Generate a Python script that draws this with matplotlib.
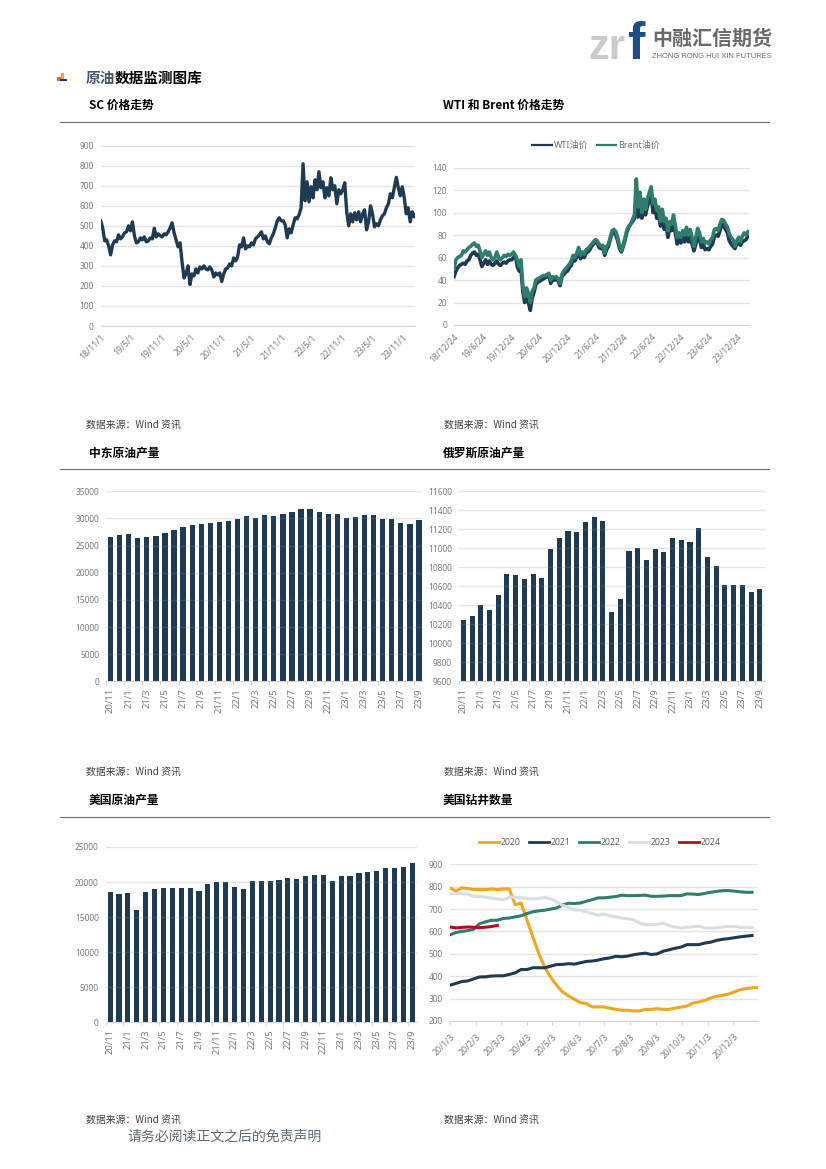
import matplotlib
matplotlib.use("Agg")
import matplotlib.pyplot as plt
import pandas as pd
from matplotlib.patches import Rectangle

W, H = 826, 1169
CJK = ["Noto Sans CJK SC", "DejaVu Sans"]
NAVY = "#1F3B53"
GREEN = "#2F7D6C"
GRID = "#E3E3E3"
TICK = "#7B7B7B"

sc_price = [
    525, 490, 425, 430, 400, 355, 405, 425, 420, 455, 435, 445, 465, 470, 500, 475,
    520, 450, 415, 420, 440, 430, 445, 420, 425, 440, 435, 488, 445, 460, 450, 445,
    460, 455, 470, 490, 515, 465, 430, 395, 415, 320, 240, 260, 300, 207, 260, 250,
    285, 265, 295, 285, 300, 285, 280, 295, 280, 245, 265, 255, 265, 222, 260, 285,
    290, 310, 300, 340, 325, 345, 405, 395, 440, 385, 400, 395, 415, 405, 435, 445,
    455, 470, 435, 450, 420, 410, 440, 460, 490, 525, 540, 525, 525, 505, 440, 485,
    465, 505, 540, 535, 555, 590, 810, 625, 720, 620, 695, 640, 730, 680, 770, 690,
    720, 640, 690, 650, 740, 680, 700, 610, 680, 660, 680, 715, 570, 500, 560, 520,
    565, 530, 570, 520, 560, 580, 480, 520, 600, 560, 495, 510, 500, 530, 550, 560,
    590, 610, 660, 640, 690, 742, 690, 650, 695, 640, 560, 590, 520, 570, 545, 560,
]
sc_ticks = ["2018-11-01", "2019-05-01", "2019-11-01", "2020-05-01", "2020-11-01", "2021-05-01",
            "2021-11-01", "2022-05-01", "2022-11-01", "2023-05-01", "2023-11-01"]
sc_labels = ["18/11/1", "19/5/1", "19/11/1", "20/5/1", "20/11/1", "21/5/1",
             "21/11/1", "22/5/1", "22/11/1", "23/5/1", "23/11/1"]

brent = [
    50, 58, 60, 61, 62, 66, 65, 67, 69, 70, 72, 73, 70, 71, 66, 60, 63, 66, 62, 65,
    60, 58, 60, 65, 60, 58, 60, 62, 61, 63, 62, 63, 65, 62, 58, 52, 58, 35, 25, 33,
    28, 20, 30, 33, 40, 41, 42, 43, 44, 44, 45, 46, 40, 43, 42, 43, 41, 37, 45, 48,
    50, 52, 54, 57, 62, 60, 64, 69, 62, 65, 63, 67, 68, 70, 72, 74, 76, 75, 72, 70,
    71, 64, 70, 72, 78, 84, 85, 83, 78, 70, 66, 72, 78, 85, 88, 90, 94, 98, 130, 105,
    118, 100, 112, 103, 113, 118, 123, 108, 112, 102, 105, 92, 103, 92, 95, 84, 92, 90,
    98, 88, 78, 82, 78, 84, 80, 87, 80, 85, 78, 70, 78, 86, 82, 74, 77, 73, 74, 72,
    76, 78, 85, 86, 84, 90, 94, 93, 90, 87, 81, 78, 76, 70, 75, 78, 74, 79, 82, 80, 83,
]
wti = [
    43, 48, 51, 53, 54, 55, 54, 57, 58, 62, 64, 65, 62, 63, 58, 52, 55, 58, 54, 57,
    54, 53, 55, 57, 54, 53, 55, 56, 55, 57, 58, 58, 60, 62, 52, 48, 50, 30, 20, 24,
    20, 13, 24, 29, 36, 38, 39, 40, 41, 42, 43, 44, 37, 40, 40, 41, 39, 35, 43, 45,
    47, 48, 51, 53, 59, 57, 61, 65, 59, 62, 60, 64, 65, 67, 70, 72, 74, 73, 69, 68,
    69, 62, 67, 70, 76, 82, 83, 80, 75, 68, 65, 70, 76, 83, 87, 90, 92, 95, 112, 96,
    108, 95, 102, 98, 106, 110, 115, 100, 104, 95, 98, 88, 96, 85, 90, 78, 87, 84,
    90, 82, 72, 76, 73, 78, 74, 81, 74, 78, 72, 66, 72, 80, 76, 69, 72, 67, 68, 67,
    70, 72, 79, 80, 79, 84, 90, 88, 85, 82, 75, 72, 70, 68, 72, 73, 71, 74, 75, 76, 79,
]
oil_ticks = ["2018-12-24", "2019-06-24", "2019-12-24", "2020-06-24", "2020-12-24", "2021-06-24",
             "2021-12-24", "2022-06-24", "2022-12-24", "2023-06-24", "2023-12-24"]
oil_labels = ["18/12/24", "19/6/24", "19/12/24", "20/6/24", "20/12/24", "21/6/24",
              "21/12/24", "22/6/24", "22/12/24", "23/6/24", "23/12/24"]

months = ["20/11", "20/12", "21/1", "21/2", "21/3", "21/4", "21/5", "21/6", "21/7", "21/8", "21/9",
          "21/10", "21/11", "21/12", "22/1", "22/2", "22/3", "22/4", "22/5", "22/6", "22/7", "22/8",
          "22/9", "22/10", "22/11", "22/12", "23/1", "23/2", "23/3", "23/4", "23/5", "23/6", "23/7",
          "23/8", "23/9"]
mideast = [26600, 26950, 27050, 26450, 26600, 26800, 27250, 27850, 28450, 28800, 28900, 29200,
           29350, 29500, 29850, 30450, 30150, 30600, 30450, 30750, 31200, 31750, 31800, 31200,
           30850, 30850, 30150, 30300, 30600, 30600, 29850, 29950, 29200, 29050, 29700]
russia = [10250, 10285, 10400, 10350, 10505, 10725, 10715, 10680, 10725, 10690, 10990, 11110,
          11185, 11170, 11275, 11330, 11285, 10325, 10465, 10975, 11000, 10875, 10990, 10965,
          11110, 11085, 11065, 11215, 10905, 10810, 10610, 10610, 10610, 10540, 10570]
usa = [18650, 18250, 18450, 16000, 18550, 19000, 19200, 19200, 19200, 19100, 18700, 19700,
       20000, 20000, 19300, 19000, 20100, 20100, 20200, 20300, 20550, 20400, 20900, 21000,
       21000, 20100, 20900, 20900, 21300, 21400, 21550, 22050, 21950, 22150, 22650]

rigs_2020 = [795, 780, 795, 792, 787, 787, 787, 790, 787, 790, 790, 720, 727, 650, 575, 500, 440,
             395, 360, 330, 312, 297, 282, 278, 263, 263, 263, 257, 252, 248, 248, 245, 245, 252,
             252, 255, 252, 252, 258, 262, 267, 280, 285, 292, 303, 310, 315, 320, 330, 340, 345,
             348, 350]
rigs_2021 = [360, 368, 376, 379, 388, 397, 397, 401, 402, 402, 408, 415, 430, 430, 438, 438, 438,
             445, 452, 453, 456, 454, 460, 466, 468, 472, 478, 482, 489, 487, 490, 496, 500, 503,
             497, 500, 512, 518, 525, 530, 541, 541, 541, 548, 552, 560, 565, 568, 572, 576, 579,
             582]
rigs_2022 = [585, 595, 600, 604, 610, 635, 643, 650, 650, 658, 660, 665, 670, 680, 688, 692, 695,
             700, 705, 718, 726, 725, 727, 735, 742, 750, 750, 753, 756, 762, 760, 760, 761, 762,
             757, 757, 758, 760, 760, 760, 768, 767, 765, 770, 775, 779, 782, 783, 780, 777, 775,
             775]
rigs_2023 = [768, 770, 769, 767, 757, 756, 754, 749, 746, 742, 753, 754, 751, 747, 745, 748, 752,
             746, 732, 717, 708, 696, 695, 688, 680, 673, 678, 670, 665, 660, 657, 652, 637, 631,
             630, 632, 637, 626, 619, 615, 618, 621, 624, 616, 615, 616, 620, 623, 622, 618, 618,
             618]
rigs_2024 = [620, 616, 618, 620, 619, 617, 619, 622, 627]
rig_ticks = ["2020-01-03", "2020-02-03", "2020-03-03", "2020-04-03", "2020-05-03", "2020-06-03",
             "2020-07-03", "2020-08-03", "2020-09-03", "2020-10-03", "2020-11-03", "2020-12-03"]
rig_labels = ["20/1/3", "20/2/3", "20/3/3", "20/4/3", "20/5/3", "20/6/3",
              "20/7/3", "20/8/3", "20/9/3", "20/10/3", "20/11/3", "20/12/3"]

plt.rcParams["font.family"] = ["Noto Sans", "Noto Sans CJK SC", "DejaVu Sans"]
fig = plt.figure(figsize=(W / 100, H / 100), dpi=100, facecolor="white")


def make_axes(left, right, top, bottom):
    ax = fig.add_axes([left / W, 1 - bottom / H, (right - left) / W, (bottom - top) / H])
    for name in ["top", "right", "left"]:
        ax.spines[name].set_visible(False)
    ax.spines["bottom"].set_color("#D4D4D4")
    ax.spines["bottom"].set_linewidth(0.8)
    ax.grid(axis="y", color=GRID, linewidth=1.0)
    ax.set_axisbelow(True)
    ax.tick_params(axis="y", length=0, labelsize=6, labelcolor=TICK, pad=5)
    return ax


def date_axis(ax, ticks, labels, marks=False):
    ax.set_xticks(pd.to_datetime(ticks))
    ax.set_xticklabels(labels, rotation=45, ha="right", rotation_mode="anchor", fontsize=6.2, color=TICK)
    ax.tick_params(axis="x", length=3 if marks else 0, color="#D4D4D4", pad=5)


def bar_chart(values, ymin, ymax, step, rect, x_end=34.5):
    ax = make_axes(*rect)
    ax.bar(range(len(values)), values, width=0.58, color=NAVY)
    ax.set_ylim(ymin, ymax)
    ax.set_yticks(range(ymin, ymax + 1, step))
    ax.set_xlim(-0.5, x_end)
    ax.set_xticks(range(0, len(values), 2))
    ax.set_xticklabels(months[::2], rotation=90, fontsize=6.8, color=TICK)
    ax.tick_params(axis="x", length=0, pad=5)
    ax.set_xticks([i - 0.5 for i in range(0, len(values), 2)], minor=True)
    ax.tick_params(axis="x", which="minor", length=3, color="#D4D4D4")
    # grid shows faintly through the bars in the original
    for v in range(ymin + step, ymax, step):
        ax.axhline(v, color="white", alpha=0.1, linewidth=1.0, zorder=3)
    return ax


def label(x, y, s, **kw):
    kw.setdefault("family", CJK)
    kw.setdefault("va", "center")
    fig.text(x / W, 1 - y / H, s, **kw)


def px_rect(x, y, w, h, color, zorder=20):
    fig.add_artist(Rectangle((x / W, 1 - (y + h) / H), w / W, h / H, transform=fig.transFigure,
                             facecolor=color, edgecolor="none", zorder=zorder))


def thin_legend(leg, width):
    for line in leg.get_lines():
        line.set_linewidth(width)


# SC price
ax = make_axes(100.7, 415, 145.7, 326)
ax.plot(pd.date_range("2018-11-01", periods=len(sc_price), freq="12D"), sc_price, color=NAVY, linewidth=2.4)
ax.set_ylim(0, 900)
ax.set_yticks(range(0, 901, 100))
ax.set_xlim(pd.Timestamp("2018-11-01"), pd.Timestamp("2024-01-15"))
date_axis(ax, sc_ticks, sc_labels)

# WTI / Brent
ax = make_axes(454, 749, 167.7, 325)
dates = pd.date_range("2018-12-24", periods=len(wti), freq="12D")
ax.plot(dates, wti, color=NAVY, linewidth=2.6, label="WTI油价")
ax.plot(dates, brent, color=GREEN, linewidth=2.6, label="Brent油价")
ax.set_ylim(0, 140)
ax.set_yticks(range(0, 141, 20))
ax.set_xlim(pd.Timestamp("2018-12-24"), pd.Timestamp("2024-03-10"))
date_axis(ax, oil_ticks, oil_labels)
leg = ax.legend(loc="center", bbox_to_anchor=(0.482, 1.143), ncol=2, frameon=False, fontsize=6.5,
                labelcolor="#707070", handlelength=2.2, handletextpad=0.2, columnspacing=0.9)
thin_legend(leg, 1.6)

# production bars
bar_chart(mideast, 0, 35000, 5000, (106, 421.7, 491.3, 681.3), x_end=34.3)
bar_chart(russia, 9600, 11600, 200, (459, 765, 491.3, 681.3), x_end=34.6)
bar_chart(usa, 0, 25000, 5000, (105.7, 416.7, 847, 1022.3))

# rig count
ax = make_axes(450, 758, 864.3, 1021)
weeks = pd.date_range("2020-01-03", periods=len(rigs_2020), freq="7D")
for name, vals, color in [("2020", rigs_2020, "#F2A51E"), ("2021", rigs_2021, NAVY), ("2022", rigs_2022, GREEN),
                          ("2023", rigs_2023, "#D9DEE3"), ("2024", rigs_2024, "#B0101E")]:
    ax.plot(weeks[:len(vals)], vals, color=color, linewidth=2.2, label=name)
ax.set_ylim(200, 900)
ax.set_yticks(range(200, 901, 100))
ax.set_xlim(weeks[0], weeks[-1])
date_axis(ax, rig_ticks, rig_labels, marks=True)
leg = ax.legend(loc="center", bbox_to_anchor=(0.487, 1.14), ncol=5, frameon=False, fontsize=6.2,
                labelcolor="#606060", handlelength=2.3, handletextpad=0.2, columnspacing=1.0)
thin_legend(leg, 2.0)

# the neighbouring chart cuts off the last month label
px_rect(421.5, 690, 12, 40, "white")

# page furniture
for y in [121.5, 469, 816.5]:
    fig.add_artist(plt.Line2D([60 / W, 769 / W], [1 - y / H, 1 - y / H], color="#6E6E6E", linewidth=0.8))

titles = [(89, 105, "SC 价格走势"), (443, 105, "WTI 和 Brent 价格走势"),
          (89, 453, "中东原油产量"), (443, 453, "俄罗斯原油产量"),
          (89, 800, "美国原油产量"), (443, 800, "美国钻井数量")]
for x, y, s in titles:
    label(x, y, s, fontsize=8.5, fontweight="bold", color="black")

for x in [86, 444]:
    for y in [425, 772, 1120]:
        label(x, y, "数据来源：Wind 资讯", fontsize=7.1, color="#404040")

label(86, 78, "原油", fontsize=10.5, fontweight="bold", color="#44546A")
label(115, 78, "数据监测图库", fontsize=10.5, fontweight="bold", color="black")
label(127, 1137, "请务必阅读正文之后的免责声明", fontsize=10, color="#5F6B7A")

# section bullet
px_rect(57, 77, 6, 4, "#E8606A")
px_rect(61, 73, 3, 8, "#E8B020")
px_rect(60, 79, 7, 2, "#2A2A90")

# logo
label(588, 59, "zr", fontsize=30, fontweight="bold", color="#C9CBCD", family=["Liberation Sans"], va="baseline")
label(627, 59, "f", fontsize=37.5, fontweight="bold", color="#1F4E86", family=["Liberation Sans"], va="baseline")
label(652, 38, "中融汇信期货", fontsize=14.4, fontweight="bold", color="#6A6A6A")
label(652, 56, "ZHONG RONG HUI XIN FUTURES", fontsize=5.45, color="#6A6A6A", family=["Liberation Sans"])

fig.savefig("out.png", dpi=100)
